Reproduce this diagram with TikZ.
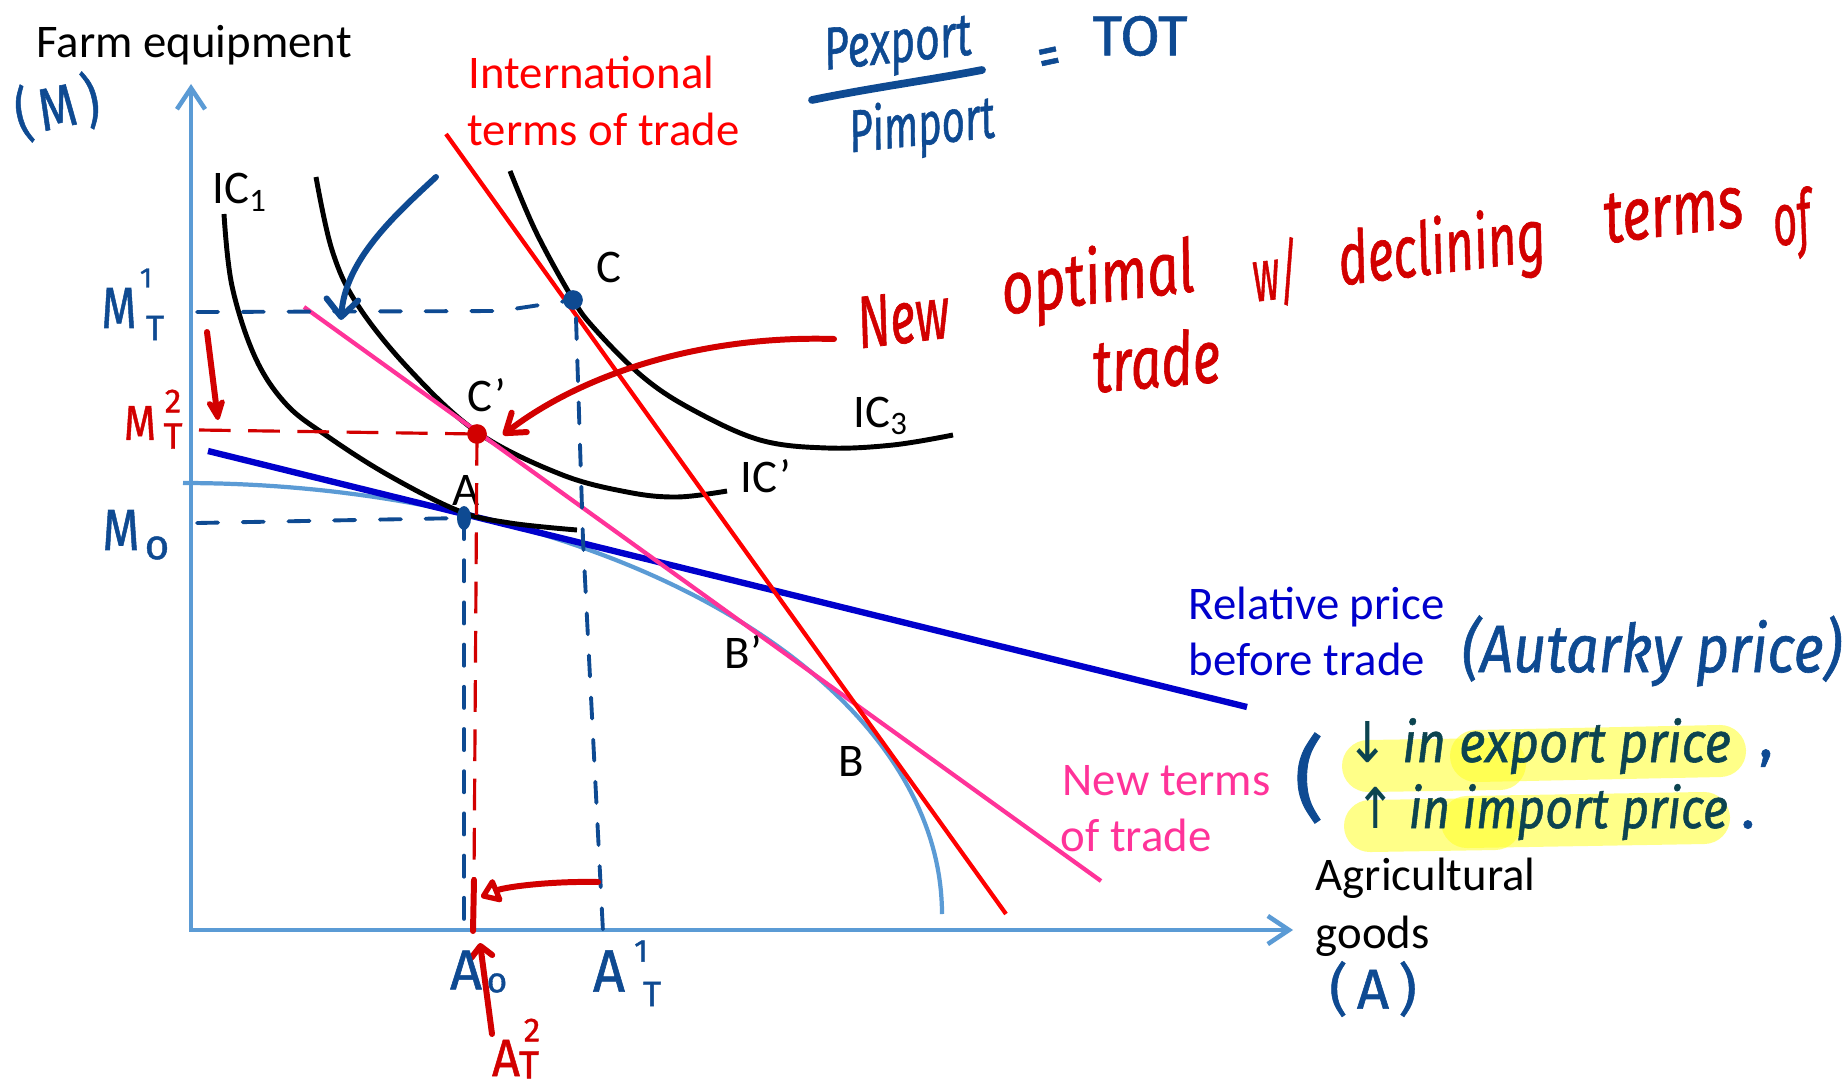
\documentclass[tikz,border=0pt]{standalone}
\usepackage{fontspec}
\usepackage{graphicx}
\setmainfont{Carlito}
\newfontfamily\hwfont{Fira Sans}[FakeBold=1]
\newfontfamily\arrfont{DejaVu Sans}
\usetikzlibrary{arrows.meta}
\definecolor{axisblue}{RGB}{91,155,213}
\definecolor{relblue}{RGB}{0,0,204}
\definecolor{ttred}{RGB}{255,0,0}
\definecolor{ttpink}{RGB}{255,51,153}
\definecolor{hwblue}{RGB}{14,74,146}
\definecolor{hwred}{RGB}{210,0,0}
\definecolor{hwteal}{RGB}{12,68,80}
\definecolor{hlyellow}{RGB}{255,255,40}
\newcommand\fitw[2]{\resizebox{#1mm}{\height}{#2}}
\begin{document}
\begin{tikzpicture}[x=0.01cm,y=-0.01cm,
  tx/.style={font=\fontsize{13.3pt}{16pt}\selectfont, inner sep=0pt, anchor=base west},
  hw/.style={font=\hwfont\fontsize{17pt}{20pt}\selectfont, inner sep=0pt},
  hwb/.style={hw, text=hwblue},
  hwr/.style={hw, text=hwred},
  phr/.style={hwr, rotate=7, font=\hwfont\itshape\fontsize{21pt}{24pt}\selectfont},
  axis/.style={draw=axisblue, line width=1.3pt},
  icurve/.style={draw=black, line width=1.4pt},
  ink/.style={line width=1.7pt, line cap=round, line join=round},
  bdash/.style={draw=hwblue, line width=1.1pt, line cap=round, dash pattern=on 6pt off 7pt},
  vdash/.style={draw=hwblue, line width=1.1pt, line cap=round, dash pattern=on 6pt off 6pt},
  rdash/.style={draw=hwred, line width=0.9pt, dash pattern=on 9pt off 5pt},
  hl/.style={draw=hlyellow, line width=14.8pt, line cap=round, draw opacity=0.55},
  barb/.style={-{Straight Barb[length=5pt,width=9pt,round]}}
]
\fill[white] (0,0) rectangle (1846,1085);
\useasboundingbox (0,0) rectangle (1846,1085);

% key points
\coordinate (O) at (191,930);
\coordinate (ytip) at (191,84);
\coordinate (xtip) at (1293,930);
\coordinate (A) at (464,518);
\coordinate (C) at (573,300);
\coordinate (Cp) at (477,434);

% axes
\draw[axis, {Straight Barb[length=6pt,width=8pt]}-{Straight Barb[length=6pt,width=8pt]}] (ytip) -- (O) -- (xtip);

% production possibility frontier
\draw[axisblue, line width=1.2pt] plot[domain=0:90, samples=90, variable=\t] ({183+759*sin(\t)},{914-431*cos(\t)});

% relative price before trade
\draw[relblue, line width=1.8pt] (208,451) -- (1247,707);

% indifference curves
\draw[icurve] plot[smooth, tension=0.6] coordinates {(224,214) (232,286) (255,357) (286,404) (327,436) (388,475) (459,511) (510,523) (577,530)};
\draw[icurve] plot[smooth, tension=0.6] coordinates {(316,177) (332,250) (357,304) (408,368) (477,432) (560,474) (627,492) (677,497) (727,491)};
\draw[icurve] plot[smooth, tension=0.6] coordinates {(510,171) (536,232) (571,296) (593,327) (643,377) (693,410) (760,440) (827,448) (893,445) (953,435)};

% new terms of trade and international terms of trade
\draw[ttpink, line width=1.2pt] (304,307) -- (1101,881);
\draw[ttred, line width=1.2pt] (446,134) -- (1006,914);

% typed labels
\node[tx] (farm) at (36,58) {Farm equipment};
\node[tx, text=ttred] (intl1) at (468,89) {International};
\node[tx, text=ttred] (intl2) at (467,146) {terms of trade};
\node[tx, text=relblue] (rel1) at (1188,619) {Relative price};
\node[tx, text=relblue] (rel2) at (1188,675) {before trade};
\node[tx, text=ttpink] (ntt1) at (1062,795) {New terms};
\node[tx, text=ttpink] (ntt2) at (1060,851) {of trade};
\node[tx] (agr1) at (1315,890) {Agricultural};
\node[tx] (agr2) at (1315,948) {goods};
\node[tx] (lIC1) at (212,204) {IC\textsubscript{1}};
\node[tx] (lC) at (596,282) {C};
\node[tx] (lCp) at (467,411) {C’};
\node[tx] (lICp) at (740,492) {IC’};
\node[tx] (lIC3) at (853,427) {IC\textsubscript{3}};
\node[tx] (lA) at (452,505) {A};
\node[tx] (lBp) at (724,668) {B’};
\node[tx] (lB) at (838,776) {B};

% handwritten dashed guides
\draw[bdash] (197,312) -- (500,311) -- (C);
\coordinate (Cdn) at (583,540);
\coordinate (AT1) at (603,932);
\draw[vdash] (576,318) -- (Cdn) -- (AT1);
\draw[bdash] (197,523) -- (A);
\coordinate (A0) at (464,937);
\draw[vdash] (A) -- (A0);
\draw[rdash] (199,430) -- (Cp);
\coordinate (Cpdn) at (474,880);
\coordinate (AT2) at (473,931);
\draw[rdash] (Cp) -- (Cpdn);
\draw[hwred, ink] (Cpdn) -- (AT2);

% dots
\fill[hwblue] (C) circle[radius=2.8pt];
\fill[hwblue] (A) ellipse[x radius=2pt, y radius=3.4pt];
\fill[hwred] (Cp) circle[radius=2.8pt];

% handwritten arrows
\coordinate (bS) at (436,177);
\coordinate (bE) at (341,320);
\draw[hwblue, ink, barb] (bS) .. controls (395,215) and (345,260) .. (bE);
\coordinate (rS) at (834,339);
\coordinate (rE) at (503,435);
\draw[hwred, ink, -{Straight Barb[length=5pt,width=7pt,round]}] (rS) .. controls (700,335) and (580,375) .. (rE);
\coordinate (mS) at (207,332);
\coordinate (mE) at (218,420);
\draw[hwred, ink, -{Stealth[length=8pt,width=7pt,round]}] (mS) -- (mE);
\coordinate (hS) at (598,882);
\coordinate (hE) at (481,897);
\draw[hwred, ink, -{Triangle[open,length=6pt,width=8pt,round]}] (hS) .. controls (550,881) and (505,887) .. (hE);
\coordinate (uS) at (492,1034);
\coordinate (uE) at (480,943);
\draw[hwred, ink, -{Straight Barb[length=3pt,width=6pt,round]}] (uS) -- (uE);

% handwritten axis labels
\node[hwb, rotate=12] (hM) at (57,107) {\fitw{8.5}{(\,M\,)}};
\node[hwb, font=\hwfont\fontsize{16pt}{18pt}\selectfont] (hA) at (1373,989) {(\,A\,)};

% M and A labels
\node[hwb, font=\hwfont\fontsize{16.5pt}{18pt}\selectfont] (mt1M) at (119,308) {\fitw{3.5}{M}};
\node[hwb, font=\hwfont\fontsize{8pt}{9pt}\selectfont] (mt1s) at (146,278) {1};
\node[hwb, font=\hwfont\fontsize{10pt}{11pt}\selectfont] (mt1t) at (155,328) {T};
\node[hwr, font=\hwfont\fontsize{14pt}{16pt}\selectfont] (mt2M) at (140,423) {\fitw{3.2}{M}};
\node[hwr, font=\hwfont\fontsize{9.5pt}{11pt}\selectfont] (mt2s) at (173,401) {2};
\node[hwr, font=\hwfont\fontsize{10.5pt}{12pt}\selectfont] (mt2t) at (173,436) {T};
\node[hwb, font=\hwfont\fontsize{16.5pt}{18pt}\selectfont] (m0M) at (121,530) {\fitw{3.7}{M}};
\node[hwb, font=\hwfont\fontsize{12pt}{14pt}\selectfont] (m0o) at (157,548) {o};
\node[hwb, font=\hwfont\fontsize{16pt}{18pt}\selectfont] (a0A) at (466,970) {\fitw{3.2}{A}};
\node[hwb, font=\hwfont\fontsize{10pt}{11pt}\selectfont] (a0o) at (497,983) {o};
\node[hwb, font=\hwfont\fontsize{17pt}{18pt}\selectfont] (at1A) at (609,971) {\fitw{3.2}{A}};
\node[hwb, font=\hwfont\fontsize{9pt}{10pt}\selectfont] (at1s) at (641,951) {1};
\node[hwb, font=\hwfont\fontsize{10pt}{11pt}\selectfont] (at1t) at (652,994) {T};
\node[hwr, font=\hwfont\fontsize{15pt}{17pt}\selectfont] (at2A) at (506,1058) {\fitw{2.8}{A}};
\node[hwr, font=\hwfont\fontsize{9.5pt}{11pt}\selectfont] (at2s) at (532,1030) {2};
\node[hwr, font=\hwfont\fontsize{11pt}{12pt}\selectfont] (at2t) at (529,1065) {T};

% terms of trade formula
\node[hwb, rotate=6, font=\hwfont\itshape\fontsize{17pt}{20pt}\selectfont] (pexp) at (898,48) {\fitw{14.8}{Pexport}};
\node[hwb, rotate=6, font=\hwfont\itshape\fontsize{17pt}{20pt}\selectfont] (pimp) at (922,128) {\fitw{14.6}{Pimport}};
\coordinate (barL) at (812,100);
\coordinate (barR) at (982,70);
\draw[hwblue, line width=2.2pt, line cap=round] (barL) .. controls (870,88) and (930,80) .. (barR);
\node[hwb, rotate=12] (eq) at (1050,62) {\fitw{2.2}{=}};
\node[hwb, font=\hwfont\fontsize{16pt}{18pt}\selectfont] (tot) at (1140,36) {\fitw{9.5}{TOT}};

% red comment
\node[phr] (wNew) at (903,318) {\fitw{9.2}{New}};
\node[phr] (wOpt) at (1098,282) {\fitw{19.4}{optimal}};
\node[phr] (wW) at (1275,273) {\fitw{4.6}{w/}};
\node[phr] (wDec) at (1442,252) {\fitw{20.8}{declining}};
\node[phr] (wTerms) at (1673,211) {\fitw{14.0}{terms}};
\node[phr] (wOf) at (1792,224) {\fitw{3.8}{of}};
\node[phr, rotate=-2] (wTrade) at (1156,360) {\fitw{12.8}{trade}};

% autarky note
\node[hwb, anchor=base west, font=\hwfont\itshape\fontsize{19pt}{22pt}\selectfont] (autarky) at (1461,672) {\fitw{38}{(Autarky price)}};

% highlighted note
\draw[hl] (1368,766) -- (1500,764);
\draw[hl] (1476,756) -- (1720,751);
\draw[hl] (1370,826) -- (1495,824);
\draw[hl] (1467,822) -- (1704,818);
\node[hwb, font=\hwfont\fontsize{26pt}{28pt}\selectfont] (paren) at (1309,778) {(};
\node[anchor=base west, inner sep=0pt, text=hwteal, font=\hwfont\itshape\fontsize{16pt}{18pt}\selectfont] (expl) at (1346,762) {\fitw{38.4}{{\arrfont\upshape ↓} in export price}};
\node[hwb, anchor=base west] (comma) at (1758,757) {,};
\node[anchor=base west, inner sep=0pt, text=hwteal, font=\hwfont\itshape\fontsize{16pt}{18pt}\selectfont] (impl) at (1355,828) {\fitw{37.2}{{\arrfont\upshape ↑} in import price}};
\node[hwb, anchor=base west] (period) at (1740,828) {.};
\end{tikzpicture}
\end{document}
